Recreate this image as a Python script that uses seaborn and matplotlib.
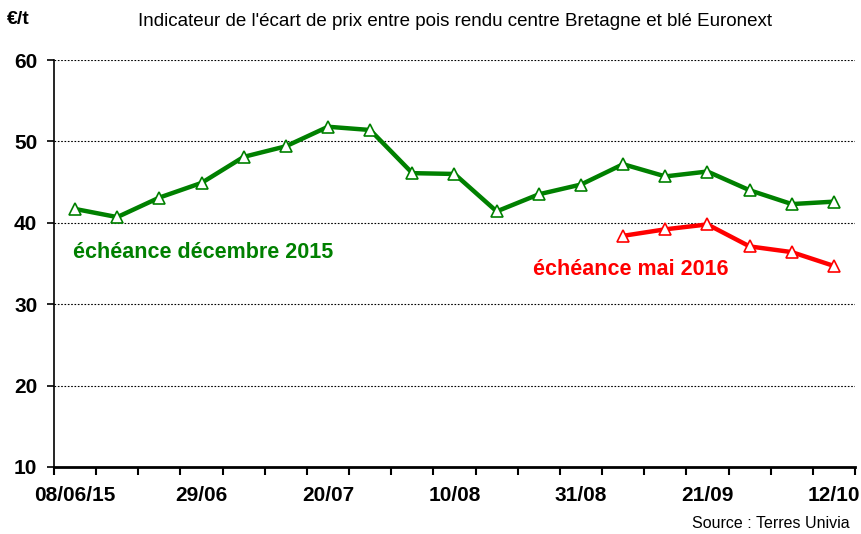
import numpy as np
import pandas as pd
import matplotlib
matplotlib.use('Agg')
import matplotlib.pyplot as plt
import seaborn as sns

# données (semaines du 08/06/15 au 12/10/15)
semaines = ['08/06/15', '15/06', '22/06', '29/06', '06/07', '13/07', '20/07',
            '27/07', '03/08', '10/08', '17/08', '24/08', '31/08', '07/09',
            '14/09', '21/09', '28/09', '05/10', '12/10']
dec_2015 = [41.7, 40.7, 43.1, 44.9, 48.1, 49.4, 51.8, 51.4, 46.1, 46.0,
            41.4, 43.5, 44.7, 47.2, 45.7, 46.3, 44.0, 42.3, 42.6]
mai_2016 = [np.nan] * 13 + [38.4, 39.2, 39.8, 37.1, 36.4, 34.7]
labels_x = ['08/06/15', '29/06', '20/07', '10/08', '31/08', '21/09', '12/10']

vert = '#008000'
rouge = '#ff0000'

df = pd.DataFrame({'pos': np.arange(len(semaines)), 'semaine': semaines,
                   'dec_2015': dec_2015, 'mai_2016': mai_2016})

sns.set_style('white')
plt.rcParams['font.family'] = ['Liberation Sans', 'DejaVu Sans']
plt.rcParams['text.color'] = 'black'
plt.rcParams['xtick.color'] = 'black'
plt.rcParams['ytick.color'] = 'black'

fig = plt.figure(figsize=(8.62, 5.34), dpi=100)
ax = fig.add_axes([54 / 862, 1 - 467 / 534, (855 - 54) / 862, (467 - 60) / 534])

sns.lineplot(data=df, x='pos', y='dec_2015', ax=ax, color=vert, linewidth=3.2,
             marker='^', markersize=9, markerfacecolor='white',
             markeredgecolor=vert, markeredgewidth=1.2)
sns.lineplot(data=df, x='pos', y='mai_2016', ax=ax, color=rouge, linewidth=3.2,
             marker='^', markersize=9, markerfacecolor='white',
             markeredgecolor=rouge, markeredgewidth=1.2)

ax.set_xlim(-0.5, len(semaines) - 0.5)
ax.set_ylim(10, 60)
ax.set_yticks([10, 20, 30, 40, 50, 60])
ax.set_yticklabels(['10', '20', '30', '40', '50', '60'], fontsize=15, fontweight='bold')

# libellés toutes les 3 semaines, traits entre les semaines
ax.set_xticks(np.arange(0, len(semaines), 3))
ax.set_xticklabels(labels_x, fontsize=15, fontweight='bold')
ax.set_xticks(np.arange(-0.5, len(semaines), 1), minor=True)
ax.tick_params(axis='x', which='major', bottom=True, length=0, pad=14)
ax.tick_params(axis='x', which='minor', bottom=True, length=6, width=1.5,
               direction='out', color='black')
ax.tick_params(axis='y', which='major', left=True, length=5, width=1.2,
               direction='out', color='black', pad=7)

for y in [20, 30, 40, 50, 60]:
    ax.axhline(y, color='black', linestyle=(0, (1.5, 1.5)), linewidth=0.8, zorder=0)

for s in ['top', 'right']:
    ax.spines[s].set_visible(False)
ax.spines['left'].set_color('black')
ax.spines['left'].set_linewidth(1.2)
ax.spines['bottom'].set_color('black')
ax.spines['bottom'].set_linewidth(2)

ax.set_xlabel('')
ax.set_ylabel('')

fig.text(7 / 862, 1 - 19 / 534, '€/t', fontsize=14, fontweight='bold', va='center', ha='left')
fig.text(455 / 862, 1 - 22 / 534,
         "Indicateur de l'écart de prix entre pois rendu centre Bretagne et blé Euronext",
         fontsize=13.5, ha='center', va='center')
ax.text(-0.05, 37.6, 'échéance décembre 2015', color=vert, fontsize=15.5,
        fontweight='bold', va='top', ha='left')
ax.text(10.86, 35.6, 'échéance mai 2016', color=rouge, fontsize=15.5,
        fontweight='bold', va='top', ha='left')
fig.text(850 / 862, 1 - 524 / 534, 'Source : Terres Univia', fontsize=11.5,
         ha='right', va='center')

fig.savefig('out.png', dpi=100)
